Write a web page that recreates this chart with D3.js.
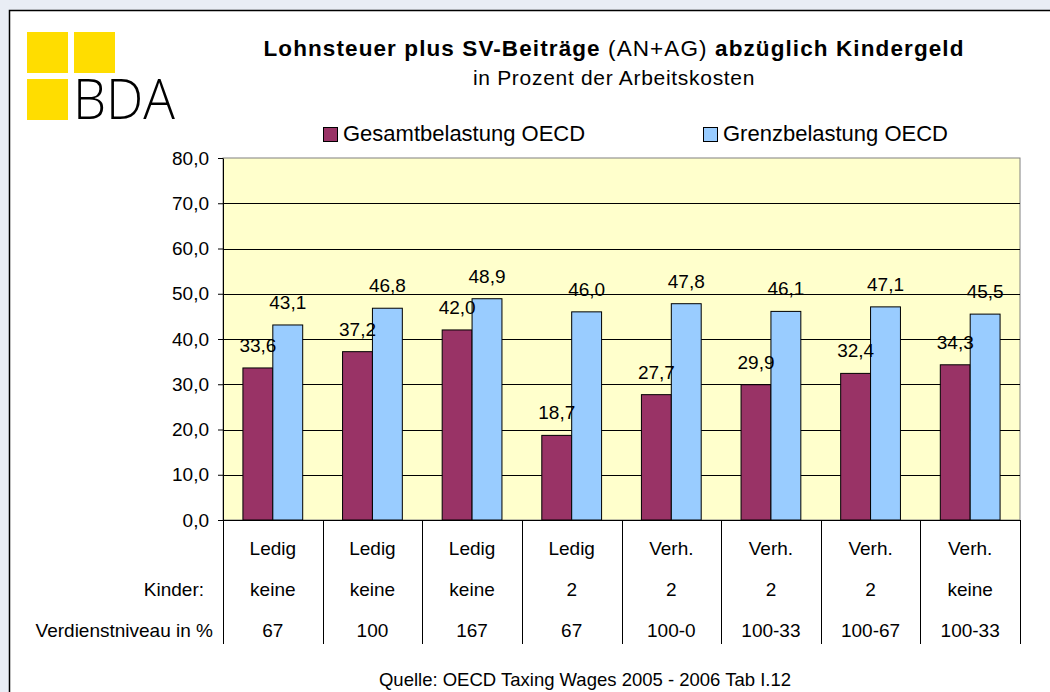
<!DOCTYPE html>
<html>
<head>
<meta charset="utf-8">
<script src="https://cdn.jsdelivr.net/npm/d3@7"></script>
<style>
  html, body { margin: 0; padding: 0; background: #e9edf5; }
  svg { display: block; font-family: "Liberation Sans", Arial, sans-serif; }
</style>
</head>
<body>
<div id="chart"></div>
<script>
// 1: DATA
const familien = ["Ledig", "Ledig", "Ledig", "Ledig", "Verh.", "Verh.", "Verh.", "Verh."];
const kinder = ["keine", "keine", "keine", "2", "2", "2", "2", "keine"];
const verdienst = ["67", "100", "167", "67", "100-0", "100-33", "100-67", "100-33"];
const gesamt = [33.6, 37.2, 42.0, 18.7, 27.7, 29.9, 32.4, 34.3];
const grenz = [43.1, 46.8, 48.9, 46.0, 47.8, 46.1, 47.1, 45.5];
const seriesNames = ["Gesamtbelastung OECD", "Grenzbelastung OECD"];
const yTicks = [0, 10, 20, 30, 40, 50, 60, 70, 80];

const colors = ["#993366", "#99ccff"];
const fs = 19; // body font size

// 2: LAYOUT
const W = 1050, H = 692;
const plot = { left: 223, right: 1020, top: 158, bottom: 520 };

const svg = d3.select("#chart").append("svg")
    .attr("width", W)
    .attr("height", H);

// white card with black border
svg.append("rect")
    .attr("x", 9.5).attr("y", 10.5)
    .attr("width", W + 20).attr("height", H + 20)
    .attr("fill", "#fff")
    .attr("stroke", "#000")
    .attr("stroke-width", 1.5);

// BDA logo
const logo = svg.append("g");
[[27, 32], [74, 32], [27, 79]].forEach(([x, y]) => {
    logo.append("rect").attr("x", x).attr("y", y)
        .attr("width", 41).attr("height", 41).attr("fill", "#ffdd00");
});
logo.append("text")
    .attr("x", 73).attr("y", 119)
    .attr("font-family", "'Open Sans', 'Liberation Sans', sans-serif")
    .attr("font-weight", 300)
    .attr("font-size", 55)
    .attr("textLength", 102)
    .attr("lengthAdjust", "spacingAndGlyphs")
    .attr("fill", "#000")
    .text("BDA");

// title
const title = svg.append("text")
    .attr("x", 614).attr("y", 56)
    .attr("text-anchor", "middle")
    .attr("font-size", 22.5)
    .attr("letter-spacing", 1.1)
    .attr("fill", "#000");
title.append("tspan").attr("font-weight", "bold").text("Lohnsteuer plus SV-Beiträge ");
title.append("tspan").text("(AN+AG) ");
title.append("tspan").attr("font-weight", "bold").text("abzüglich Kindergeld");

svg.append("text")
    .attr("x", 614).attr("y", 85)
    .attr("text-anchor", "middle")
    .attr("font-size", 21)
    .attr("letter-spacing", 0.7)
    .text("in Prozent der Arbeitskosten");

// legend
const legendX = [323, 703];
seriesNames.forEach((name, i) => {
    svg.append("rect")
        .attr("x", legendX[i] + 0.5).attr("y", 127.5)
        .attr("width", 14).attr("height", 14)
        .attr("fill", colors[i]).attr("stroke", "#000");
    svg.append("text")
        .attr("x", legendX[i] + 20).attr("y", 141)
        .attr("font-size", 22)
        .text(name);
});

// 3: SCALES
const x0 = d3.scaleBand()
    .domain(d3.range(familien.length))
    .range([plot.left, plot.right])
    .paddingInner(0.4)
    .paddingOuter(0.2);

const x1 = d3.scaleBand()
    .domain([0, 1])
    .range([0, x0.bandwidth()]);

const y = d3.scaleLinear()
    .domain([0, 80])
    .range([plot.bottom, plot.top]);

// plot background
svg.append("rect")
    .attr("x", plot.left).attr("y", plot.top)
    .attr("width", plot.right - plot.left).attr("height", plot.bottom - plot.top)
    .attr("fill", "#ffffcc")
    .attr("stroke", "#808080");

// gridlines
svg.append("g")
    .selectAll("line")
    .data(yTicks.slice(1, -1))
    .join("line")
    .attr("x1", plot.left).attr("x2", plot.right)
    .attr("y1", d => Math.round(y(d)) + 0.5).attr("y2", d => Math.round(y(d)) + 0.5)
    .attr("stroke", "#000");

// 4: BARS
const groups = svg.append("g")
    .selectAll("g")
    .data(gesamt.map((g, i) => [g, grenz[i]]))
    .join("g")
    .attr("transform", (d, i) => `translate(${x0(i)},0)`);

groups.selectAll("rect")
    .data(d => d)
    .join("rect")
    .attr("x", (d, j) => x1(j))
    .attr("y", d => y(d))
    .attr("width", x1.bandwidth())
    .attr("height", d => y(0) - y(d))
    .attr("fill", (d, j) => colors[j])
    .attr("stroke", "#000")
    .attr("stroke-width", 1);

groups.selectAll("text")
    .data(d => d)
    .join("text")
    .attr("x", (d, j) => x1(j) + x1.bandwidth() / 2)
    .attr("y", d => y(d) - 16)
    .attr("text-anchor", "middle")
    .attr("font-size", fs)
    .text(d => d3.format(".1f")(d).replace(".", ","));

// 5: AXES
const yAxis = svg.append("g")
    .attr("transform", `translate(${plot.left},0)`)
    .call(d3.axisLeft(y).tickValues(yTicks).tickSize(5).tickSizeOuter(0).tickPadding(9)
        .tickFormat(d => d3.format(".1f")(d).replace(".", ",")));
yAxis.selectAll("text").attr("font-size", fs).attr("font-family", "Liberation Sans, Arial, sans-serif")
    .attr("fill", "#000");
yAxis.selectAll("line, path").attr("stroke", "#000");

svg.append("line")
    .attr("x1", plot.left).attr("x2", plot.right)
    .attr("y1", plot.bottom + 0.5).attr("y2", plot.bottom + 0.5)
    .attr("stroke", "#000");

// table below the axis
const bounds = d3.range(familien.length + 1).map(i =>
    i < familien.length ? x0(i) - x0.step() * x0.paddingOuter() : plot.right);
svg.append("g")
    .selectAll("line")
    .data(bounds)
    .join("line")
    .attr("x1", d => Math.round(d) + 0.5).attr("x2", d => Math.round(d) + 0.5)
    .attr("y1", plot.bottom).attr("y2", 644)
    .attr("stroke", "#000");

const rows = [familien, kinder, verdienst];
const rowY = [555, 596, 637];
rows.forEach((row, r) => {
    svg.append("g")
        .selectAll("text")
        .data(row)
        .join("text")
        .attr("x", (d, i) => x0(i) + x0.bandwidth() / 2)
        .attr("y", rowY[r])
        .attr("text-anchor", "middle")
        .attr("font-size", fs)
        .text(d => d);
});

svg.append("text")
    .attr("x", 204).attr("y", rowY[1])
    .attr("text-anchor", "end").attr("font-size", fs)
    .text("Kinder:");
svg.append("text")
    .attr("x", 213).attr("y", rowY[2])
    .attr("text-anchor", "end").attr("font-size", fs)
    .text("Verdienstniveau in %");

// source
svg.append("text")
    .attr("x", 585).attr("y", 686)
    .attr("text-anchor", "middle")
    .attr("font-size", 18.5)
    .text("Quelle: OECD Taxing Wages 2005 - 2006 Tab I.12");
</script>
</body>
</html>
